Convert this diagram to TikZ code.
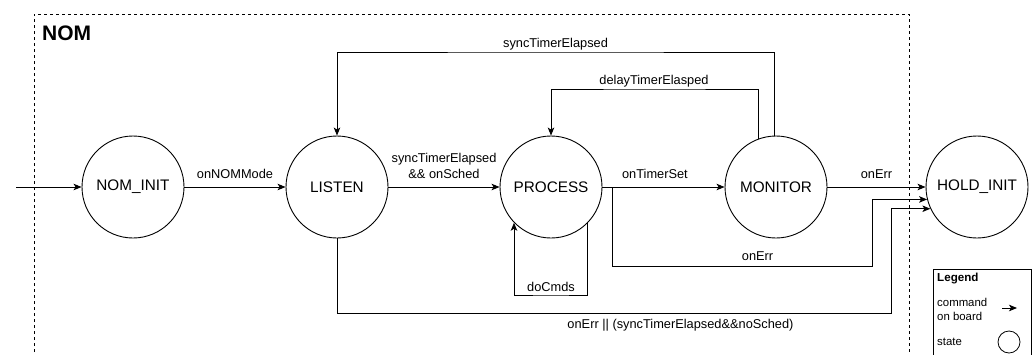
\documentclass[tikz,border=0pt]{standalone}
\usepackage{fontspec}
\setmainfont{Liberation Sans}
\usetikzlibrary{arrows.meta}
\begin{document}
\begin{tikzpicture}[x=1pt,y=-1pt,
  state/.style={circle,draw,line width=0.9pt,minimum size=102pt,inner sep=0pt,font=\fontsize{15.3}{18}\selectfont},
  arr/.style={draw,line width=0.9pt,-{Stealth[length=8pt,width=6.5pt,inset=2pt]}},
  lbl/.style={font=\fontsize{12.8}{15.5}\selectfont,inner sep=0pt,anchor=base}]
\useasboundingbox (0,0) rectangle (1035,354);
\clip (0,0) rectangle (1035,354);
% container
\draw[dash pattern=on 3pt off 3pt,line width=0.8pt] (34,370) -- (34,14) -- (909,14) -- (909,370);
\node[anchor=base west,inner sep=0pt,font=\bfseries\fontsize{21}{24}\selectfont] (nomlbl) at (42,40) {NOM};
% states
\node[state] (NIT) at (133,187) {NOM\_INIT};
\node[state] (LIS) at (337,187) {LISTEN};
\node[state] (PRO) at (551,187) {PROCESS};
\node[state] (MON) at (776,187) {MONITOR};
\node[state] (HOL) at (977,187) {HOLD\_INIT};
% helper coordinates
\coordinate (start) at (16,187);
\coordinate (s1) at (555.5,52);
\coordinate (d1) at (654,89);
\coordinate (c1) at (551,295);
\coordinate (p1) at (612,187);
\coordinate (p2) at (872,266);
\coordinate (l1) at (891,313);
% connectors
\draw[arr] (start) -- (NIT);
\draw[arr] (NIT) -- node[lbl,yshift=9pt]{onNOMMode} (LIS);
\draw[arr] (LIS) -- node[lbl,yshift=9pt,align=center]{syncTimerElapsed\\\&\& onSched} (PRO);
\draw[arr] (PRO) -- node[lbl,pos=0.43,yshift=9pt]{onTimerSet} (MON);
\draw[arr] (MON) -- node[lbl,yshift=9pt]{onErr} (HOL);
\draw[arr] (MON.92.25) |- (s1) node[lbl,yshift=5pt]{syncTimerElapsed} -| (LIS.north);
\draw[arr] (MON.110.7) |- (d1) node[lbl,yshift=5pt]{delayTimerElasped} -| (PRO.north);
\draw[arr] (PRO.-45) |- (c1) node[lbl,yshift=3.5pt]{doCmds} -| (PRO.-136.5);
\draw[arr] (p1) |- (p2) node[lbl,pos=0.78,yshift=6pt]{onErr} |- (HOL.194.8);
\draw[arr] (LIS.south) |- (l1) node[lbl,pos=0.81,yshift=-15pt]{onErr || (syncTimerElapsed\&\&noSched)} |- (HOL.205.6);
% legend
\draw[line width=0.8pt] (933,269) rectangle (1031,380);
\node[anchor=base west,inner sep=0pt,font=\bfseries\fontsize{11.6}{14}\selectfont] (lgt) at (937,281) {Legend};
\node[anchor=base west,inner sep=0pt,font=\fontsize{11.4}{14}\selectfont] (lgc) at (937,306) {command};
\node[anchor=base west,inner sep=0pt,font=\fontsize{11.4}{14}\selectfont] (lgo) at (937,320) {on board};
\node[anchor=base west,inner sep=0pt,font=\fontsize{11.4}{14}\selectfont] (lgs) at (937,345) {state};
\coordinate (la) at (1002,308);
\coordinate (lb) at (1017,308);
\draw[arr] (la) -- (lb);
\node[circle,draw,line width=0.8pt,minimum size=22pt,inner sep=0pt] (lgcirc) at (1009,342) {};
\end{tikzpicture}
\end{document}
